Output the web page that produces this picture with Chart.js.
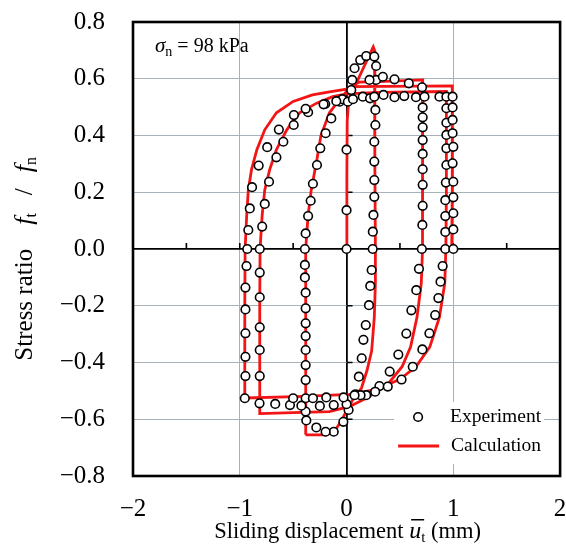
<!DOCTYPE html>
<html>
<head>
<meta charset="utf-8">
<script src="https://cdn.jsdelivr.net/npm/chart.js@4.4.1/dist/chart.umd.min.js"></script>
<style>
  html, body { margin: 0; padding: 0; background: #fff; }
</style>
</head>
<body>
<canvas id="myChart" width="566" height="547"></canvas>
<script>
"use strict";

//////////////////////////////
// Data (sliding displacement mm, stress ratio)
const xTicks = [-2, -1, 0, 1, 2];
const yTicks = [-0.8, -0.6, -0.4, -0.2, 0, 0.2, 0.4, 0.6, 0.8];
const xMinorTicks = [-1.5, -1, -0.5, 0.5, 1, 1.5];
const yMinorTicks = [-0.6, -0.4, -0.2, 0.2, 0.4, 0.6];

// Calculation, branch by branch
const calcInitial = [[0, 0], [0.003, 0.25], [0.006, 0.45], [0.015, 0.5], [0.03, 0.535], [0.25, 0.712]];
const calcUnload1 = [[0.262, 0.7], [0.265, 0.3], [0.27, 0], [0.27, -0.12], [0.26, -0.24], [0.235, -0.36],
  [0.19, -0.43], [0.14, -0.49], [0.06, -0.53], [0, -0.57], [-0.04, -0.6], [-0.1, -0.635], [-0.19, -0.655], [-0.385, -0.655]];
const calcReload1 = [[-0.385, -0.3], [-0.38, 0], [-0.36, 0.12], [-0.33, 0.21], [-0.28, 0.31], [-0.24, 0.4],
  [-0.16, 0.48], [-0.07, 0.525], [0, 0.555], [0.06, 0.578], [0.12, 0.588], [0.3, 0.59], [0.713, 0.596]];
const calcUnload2 = [[0.713, 0.3], [0.71, 0], [0.7, -0.12], [0.66, -0.24], [0.6, -0.345], [0.52, -0.415],
  [0.4, -0.47], [0.215, -0.52], [0.03, -0.555], [-0.16, -0.573], [-0.5, -0.577], [-0.813, -0.58]];
const calcReload2 = [[-0.813, -0.2], [-0.81, 0], [-0.79, 0.12], [-0.766, 0.208], [-0.72, 0.28], [-0.657, 0.35],
  [-0.56, 0.42], [-0.44, 0.48], [-0.28, 0.514], [-0.13, 0.537], [0, 0.547], [0.3, 0.552], [0.935, 0.555]];
const calcUnload3 = [[0.935, 0.2], [0.93, 0], [0.92, -0.12], [0.87, -0.24], [0.78, -0.345], [0.65, -0.415],
  [0.495, -0.46], [0.28, -0.495], [0.03, -0.512], [-0.47, -0.52], [-0.953, -0.525]];
const calcReload3 = [[-0.953, -0.2], [-0.95, 0], [-0.935, 0.12], [-0.92, 0.208], [-0.89, 0.28], [-0.84, 0.35],
  [-0.766, 0.42], [-0.657, 0.48], [-0.5, 0.52], [-0.32, 0.543], [-0.16, 0.554], [0, 0.563], [0.05, 0.572], [0.99, 0.575]];
const calcUnload4 = [[0.99, 0.2], [0.985, 0]];

// Experiment
const expInitial = [[0, 0], [0, 0.137], [0, 0.35], [0.044, 0.56], [0.053, 0.596], [0.075, 0.637], [0.128, 0.666],
  [0.184, 0.68], [0.26, 0.678], [0.277, 0.645], [0.277, 0.596]];
const expUnload1 = [[0.27, 0.49], [0.27, 0.437], [0.26, 0.378], [0.26, 0.308], [0.26, 0.243], [0.26, 0.184],
  [0.252, 0.12], [0.246, 0.061], [0.245, 0], [0.235, -0.074], [0.222, -0.13], [0.21, -0.198], [0.18, -0.268],
  [0.158, -0.32], [0.142, -0.385], [0.115, -0.45], [0.084, -0.512], [0.019, -0.567], [-0.03, -0.609],
  [-0.12, -0.644], [-0.196, -0.644], [-0.283, -0.629], [-0.377, -0.604], [-0.383, -0.573]];
const expReload1 = [[-0.383, -0.526], [-0.383, -0.462], [-0.383, -0.409], [-0.383, -0.356], [-0.383, -0.307],
  [-0.383, -0.262], [-0.383, -0.209], [-0.383, -0.154], [-0.39, -0.1], [-0.39, -0.056], [-0.39, 0], [-0.383, 0.055],
  [-0.36, 0.116], [-0.336, 0.17], [-0.315, 0.23], [-0.277, 0.296], [-0.246, 0.355], [-0.196, 0.408], [-0.143, 0.46]];
const expUpperRow = [[0.215, 0.596], [0.34, 0.607], [0.449, 0.598], [0.583, 0.584], [0.707, 0.57]];
const expUnload2 = [[0.713, 0.499], [0.713, 0.464], [0.713, 0.429], [0.713, 0.384], [0.713, 0.335], [0.713, 0.281],
  [0.713, 0.226], [0.713, 0.152], [0.71, 0.085], [0.705, 0], [0.678, -0.07], [0.653, -0.145], [0.607, -0.216],
  [0.56, -0.298], [0.485, -0.372], [0.404, -0.432], [0.308, -0.483]];
const expLowerRowA = [[0, -0.547], [-0.12, -0.55], [-0.25, -0.553], [-0.423, -0.552], [-0.53, -0.55],
  [-0.668, -0.546], [-0.815, -0.544]];
const expReload2 = [[-0.813, -0.448], [-0.813, -0.356], [-0.813, -0.276], [-0.813, -0.17], [-0.813, -0.083],
  [-0.813, 0], [-0.79, 0.079], [-0.766, 0.159], [-0.726, 0.237], [-0.657, 0.323], [-0.592, 0.378],
  [-0.495, 0.437], [-0.36, 0.482], [-0.2, 0.511], [-0.065, 0.519]];
const expTopRow = [[-0.04, 0.528], [0.012, 0.519], [0.06, 0.528], [0.152, 0.537], [0.22, 0.531], [0.26, 0.537],
  [0.346, 0.543], [0.449, 0.535], [0.54, 0.539], [0.65, 0.535], [0.73, 0.537], [0.87, 0.537], [0.935, 0.537], [0.993, 0.537]];
const expUnload3 = [[0.935, 0.496], [0.935, 0.445], [0.935, 0.402], [0.935, 0.355], [0.935, 0.296], [0.93, 0.234],
  [0.925, 0.172], [0.925, 0.116], [0.925, 0.06], [0.925, 0], [0.9, -0.06], [0.88, -0.115], [0.86, -0.173],
  [0.83, -0.233], [0.776, -0.297], [0.71, -0.354], [0.62, -0.415], [0.515, -0.46], [0.386, -0.485],
  [0.268, -0.503], [0.184, -0.515], [0.131, -0.515], [0.075, -0.515]];
const expLowerRowB = [[-0.028, -0.523], [-0.19, -0.523], [-0.315, -0.526], [-0.5, -0.526], [-0.953, -0.526]];
const expReload3 = [[-0.947, -0.448], [-0.947, -0.38], [-0.947, -0.297], [-0.947, -0.213], [-0.947, -0.136],
  [-0.937, -0.06], [-0.93, 0], [-0.92, 0.067], [-0.906, 0.143], [-0.885, 0.218], [-0.823, 0.294], [-0.743, 0.359],
  [-0.634, 0.421], [-0.493, 0.472], [-0.383, 0.494], [-0.215, 0.51], [-0.096, 0.521]];
const expUnload4 = [[0.993, 0.499], [0.993, 0.455], [0.993, 0.408], [1.0, 0.36], [0.993, 0.302], [1.0, 0.237],
  [1.0, 0.182], [1.0, 0.126], [1.0, 0.069], [1.0, 0]];

//////////////////////////////
// Styles
const SERIF = "'Liberation Serif', 'Times New Roman', 'DejaVu Serif', serif";
const RED = "#f31515";
const GRID = "#a7b2ba";

const toPoints = (list) => list.map(([x, y]) => ({ x, y }));
const minus = (v) => String(v).replace("-", "\u2212");

const calcPath = toPoints([].concat(calcInitial, calcUnload1, calcReload1, calcUnload2,
  calcReload2, calcUnload3, calcReload3, calcUnload4));
const expPoints = toPoints([].concat(expInitial, expUnload1, expReload1, expUpperRow, expUnload2,
  expLowerRowA, expReload2, expTopRow, expUnload3, expLowerRowB, expReload3, expUnload4));

// draw a run of text pieces (font / vertical shift / gap after) from x
const drawRich = function (ctx, parts, x, y, align) {
  let total = 0;
  parts.forEach((p) => { ctx.font = p.font; total += ctx.measureText(p.t).width + (p.gap || 0); });
  let cx = align === "center" ? x - total / 2 : align === "right" ? x - total : x;
  parts.forEach((p) => {
    ctx.font = p.font;
    ctx.fillText(p.t, cx, y + (p.dy || 0));
    p.x0 = cx;
    cx += ctx.measureText(p.t).width;
    p.x1 = cx;
    cx += p.gap || 0;
  });
  return parts;
};

const noScalePadding = function (s) {
  s.paddingLeft = 0;
  s.paddingRight = 0;
  s.paddingTop = 0;
  s.paddingBottom = 0;
};

//////////////////////////////
// Plugins
const zeroAxisTicks = {
  id: "zeroAxisTicks",
  beforeDatasetsDraw(chart) {
    const { ctx, scales: { x, y } } = chart;
    const x0 = x.getPixelForValue(0);
    const y0 = y.getPixelForValue(0);
    ctx.save();
    ctx.strokeStyle = "#000";
    ctx.lineWidth = 1.6;
    ctx.beginPath();
    xMinorTicks.forEach((v) => {
      const px = x.getPixelForValue(v);
      ctx.moveTo(px, y0);
      ctx.lineTo(px, y0 - 6);
    });
    yMinorTicks.forEach((v) => {
      const py = y.getPixelForValue(v);
      ctx.moveTo(x0, py);
      ctx.lineTo(x0 + 6, py);
    });
    ctx.stroke();
    ctx.restore();
  },
};

const legendBox = {
  id: "legendBox",
  afterDatasetsDraw(chart) {
    const { ctx, chartArea: a } = chart;
    const left = a.right - 166;
    const top = a.bottom - 74;
    ctx.save();
    ctx.fillStyle = "#fff";
    ctx.fillRect(left, top, 150, 62);
    // experiment marker
    ctx.beginPath();
    ctx.arc(left + 24, top + 15, 4.3, 0, Math.PI * 2);
    ctx.fillStyle = "#fff";
    ctx.fill();
    ctx.lineWidth = 1.6;
    ctx.strokeStyle = "#000";
    ctx.stroke();
    // calculation line
    ctx.beginPath();
    ctx.moveTo(left + 4, top + 44);
    ctx.lineTo(left + 45, top + 44);
    ctx.lineWidth = 3;
    ctx.strokeStyle = RED;
    ctx.stroke();
    ctx.fillStyle = "#000";
    ctx.font = `19.5px ${SERIF}`;
    ctx.textBaseline = "middle";
    ctx.fillText("Experiment", left + 56, top + 15);
    ctx.fillText("Calculation", left + 57, top + 44);
    ctx.restore();
  },
};

const frameAndText = {
  id: "frameAndText",
  afterDraw(chart) {
    const { ctx, chartArea: a } = chart;
    ctx.save();
    ctx.strokeStyle = "#000";
    ctx.lineWidth = 2.6;
    ctx.strokeRect(a.left, a.top, a.right - a.left, a.bottom - a.top);

    ctx.fillStyle = "#000";
    ctx.textBaseline = "alphabetic";
    ctx.textAlign = "left";

    // normal stress note
    drawRich(ctx, [
      { t: "\u03c3", font: `italic 21px ${SERIF}` },
      { t: "n", font: `14px ${SERIF}`, dy: 4 },
      { t: " = 98 kPa", font: `20px ${SERIF}` },
    ], a.left + 22, a.top + 30, "left");

    // x axis title
    const xt = drawRich(ctx, [
      { t: "Sliding displacement ", font: `22.5px ${SERIF}` },
      { t: "u", font: `italic 24px ${SERIF}` },
      { t: "t", font: `15px ${SERIF}`, dy: 4 },
      { t: " (mm)", font: `22.5px ${SERIF}` },
    ], (a.left + a.right) / 2 + 1, 538, "center");
    const u = xt[1];
    ctx.fillRect(u.x0 + 2, 519, u.x1 - u.x0 + 1, 1.5);

    // y axis title, end of text near the top of the plot
    ctx.translate(32, 157);
    ctx.rotate(-Math.PI / 2);
    drawRich(ctx, [
      { t: "Stress ratio", font: `25px ${SERIF}`, gap: 24 },
      { t: "f", font: `italic 26px ${SERIF}` },
      { t: "t", font: `16px ${SERIF}`, dy: 4, gap: 18 },
      { t: "/", font: `25px ${SERIF}`, gap: 16 },
      { t: "f", font: `italic 26px ${SERIF}` },
      { t: "n", font: `16px ${SERIF}`, dy: 4 },
    ], 0, 0, "right");
    ctx.restore();
  },
};

//////////////////////////////
// Chart
const canvas = document.getElementById("myChart");
const chart = new Chart(canvas.getContext("2d"), {
  type: "scatter",
  data: {
    datasets: [
      {
        label: "Experiment",
        data: expPoints,
        pointStyle: "circle",
        pointRadius: 4.3,
        pointBorderWidth: 1.6,
        pointBorderColor: "#000",
        pointBackgroundColor: "#fff",
        showLine: false,
        order: 0,
      },
      {
        label: "Calculation",
        data: calcPath,
        showLine: true,
        borderColor: RED,
        borderWidth: 2.8,
        pointRadius: 0,
        tension: 0,
        fill: false,
        order: 1,
      },
    ],
  },
  options: {
    responsive: false,
    animation: false,
    layout: { padding: { left: 0, right: 5, top: 22, bottom: 0 } },
    plugins: { legend: { display: false }, tooltip: { enabled: false } },
    scales: {
      x: {
        type: "linear",
        min: -2,
        max: 2,
        afterBuildTicks: (s) => { s.ticks = xTicks.map((v) => ({ value: v })); },
        afterFit: (s) => { s.height = 71; noScalePadding(s); },
        ticks: {
          padding: 18,
          color: "#000",
          font: { family: SERIF, size: 25 },
          callback: (v) => minus(v),
        },
        grid: {
          drawTicks: false,
          color: (c) => (c.tick.value === 0 ? "#000" : Math.abs(c.tick.value) === 2 ? "rgba(0,0,0,0)" : GRID),
          lineWidth: (c) => (c.tick.value === 0 ? 1.8 : 1),
        },
        border: { display: false },
      },
      y: {
        type: "linear",
        min: -0.8,
        max: 0.8,
        afterBuildTicks: (s) => { s.ticks = yTicks.map((v) => ({ value: v })); },
        afterFit: (s) => { s.width = 133; noScalePadding(s); },
        ticks: {
          padding: 28,
          color: "#000",
          font: { family: SERIF, size: 25 },
          callback: (v) => minus(v.toFixed(1)),
        },
        grid: {
          drawTicks: false,
          color: (c) => (Math.abs(c.tick.value) < 1e-9 ? "#000" : Math.abs(c.tick.value) > 0.79 ? "rgba(0,0,0,0)" : GRID),
          lineWidth: (c) => (Math.abs(c.tick.value) < 1e-9 ? 1.8 : 1),
        },
        border: { display: false },
      },
    },
  },
  plugins: [zeroAxisTicks, legendBox, frameAndText],
});
</script>
</body>
</html>
